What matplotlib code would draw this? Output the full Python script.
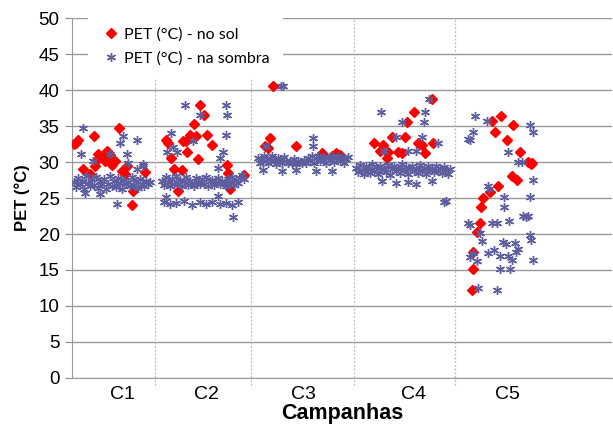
import matplotlib.pyplot as plt

# sample index (x) and PET values, per campaign
campaigns = ["C1", "C2", "C3", "C4", "C5"]
label_pos = [25, 67, 115.5, 170.5, 217.5]
dividers = [41.5, 89.5, 141, 191.5]

# --- PET (°C) - no sol
sun_x = [
    1.0, 2.0, 3.2, 5.6, 9.0, 11.0, 11.5, 12.5, 13.2, 14.0, 15.6, 16.5, 17.5, 19.0, 20.0,
    21.5, 23.5, 24.8, 26.5, 27.6, 29.8, 30.6, 36.5,
    47, 48.2, 49.4, 51, 53.2, 54.8, 55.6, 57, 57.6, 59, 61.2, 62, 63.2, 64, 66, 67.4,
    69.8, 77.4, 78, 79, 86,
    96.6, 98, 99, 100.4, 112, 124.8, 126, 130, 132, 134,
    151, 154, 155.4, 157.4, 158, 159.8, 163.2, 165, 166.5, 167.6, 171, 173.2, 175,
    176.5, 179.8, 180.6,
    200, 200.6, 200.6, 202.4, 204, 204.6, 205.6, 209, 209.8, 211.4, 212.8, 214.6,
    217.6, 220, 220.6, 222.4, 224, 228, 229.5, 230,
]
sun_y = [
    32.5, 32.7, 33.1, 29.0, 28.4, 33.6, 29.4, 30.3, 31.1, 30.9, 30.6, 30.1, 31.5, 31.0, 29.6,
    30.1, 34.7, 28.7, 28.3, 29.4, 24.0, 26.0, 28.6,
    33.1, 32.7, 30.5, 29.1, 26.0, 28.9, 32.9, 32.9, 31.4, 33.8, 35.3, 33.6, 30.4, 37.9, 36.5, 33.8,
    32.4, 29.6, 28.5, 26.3, 28.2,
    32.2, 32.0, 33.3, 40.5, 32.2, 31.2, 30.9, 30.9, 31.2, 31.0,
    32.7, 31.5, 32.3, 30.6, 31.4, 33.5, 31.4, 31.2, 33.5, 35.6, 37.0, 32.7, 32.4,
    31.2, 38.8, 32.6,
    12.2, 15.2, 17.5, 20.3, 21.5, 23.8, 25.0, 25.9, 35.7, 34.2, 26.7, 36.4,
    33.1, 28.1, 35.1, 27.5, 31.4, 30.0, 29.7, 29.9,
]

# --- PET (°C) - na sombra: dense bands of each campaign
c1_band_x = [1, 2, 3, 4, 5, 6, 7, 8, 9, 10, 11, 12, 13, 14, 15, 16, 17, 18, 19, 20,
             21, 22, 23, 24, 25, 26, 27, 28, 29, 30, 31, 32, 33, 34, 35, 36, 37, 38, 39]
c1_band_y = [27.2, 26.5, 27.8, 26.9, 27.4, 26.3, 28.0, 27.1, 26.6, 27.6, 26.8, 27.9, 26.4,
             27.3, 26.9, 27.7, 26.2, 27.0, 28.1, 26.7, 27.4, 26.5, 27.8, 27.1, 26.3, 27.5,
             26.9, 27.2, 26.6, 27.9, 26.8, 27.3, 26.4, 27.6, 27.0, 26.7, 27.4, 26.9, 27.2]
c2_band_x = [45, 46, 47, 48, 49, 50, 51, 52, 53, 54, 55, 56, 57, 58, 59, 60, 61, 62, 63, 64,
             65, 66, 67, 68, 69, 70, 71, 72, 73, 74, 75, 76, 77, 78, 79, 80, 81, 82, 83, 84,
             85, 86]
c2_band_y = [27.4, 26.8, 27.9, 27.2, 26.6, 27.7, 27.0, 28.1, 26.9, 27.5, 26.7, 27.3, 27.9,
             26.8, 27.4, 27.1, 26.6, 27.8, 27.2, 26.9, 27.6, 27.0, 27.9, 26.7, 27.3, 27.5,
             26.8, 27.2, 27.8, 26.9, 27.4, 27.0, 26.7, 27.6, 27.2, 27.9, 26.8, 27.5, 27.1,
             27.8, 28.2, 27.6]
c3_band_x = [93, 94, 95, 96, 97, 98, 99, 100, 101, 102, 103, 104, 105, 106, 107, 108, 109,
             110, 111, 112, 113, 114, 115, 116, 117, 118, 119, 120, 121, 122, 123, 124, 125,
             126, 127, 128, 129, 130, 131, 132, 133, 134, 135, 136, 137, 138]
c3_band_y = [30.6, 29.9, 30.4, 30.8, 30.1, 29.8, 30.5, 30.9, 30.2, 29.7, 30.6, 30.3, 29.9,
             30.7, 30.1, 29.8, 30.2, 29.9, 30.4, 29.7, 30.1, 30.0, 29.8, 30.3, 29.9, 30.6,
             30.2, 30.9, 29.9, 30.5, 30.8, 30.1, 30.4, 30.7, 29.9, 30.6, 30.3, 30.8, 30.0,
             30.5, 30.9, 30.2, 30.6, 29.9, 30.4, 30.7]
c4_band_x = [142, 143, 144, 145, 146, 147, 148, 149, 150, 151, 152, 153, 154, 155, 156, 157,
             158, 159, 160, 161, 162, 163, 164, 165, 166, 167, 168, 169, 170, 171, 172, 173,
             174, 175, 176, 177, 178, 179, 180, 181, 182, 183, 184, 185, 186, 187, 188, 189]
c4_band_y = [29.2, 28.6, 29.6, 28.9, 28.3, 29.4, 29.0, 28.5, 29.7, 28.8, 29.3, 28.4, 29.5,
             28.9, 29.1, 28.6, 29.6, 28.2, 29.0, 29.4, 28.7, 29.2, 28.5, 29.7, 28.9, 29.3,
             28.4, 29.0, 29.5, 28.7, 29.1, 28.5, 29.6, 28.8, 29.2, 28.3, 29.4, 28.9, 29.0,
             28.6, 29.5, 28.8, 29.2, 28.5, 29.3, 28.9, 28.4, 29.1]

# --- PET (°C) - na sombra: scattered points
shade_x = [
    4.4, 5.4, 6.5, 10.6, 14, 19, 22.4, 24, 25.6, 27.4, 28.2, 32.4, 32.4, 35.4, 35.6,
    46, 47, 47.5, 49, 49.4, 50.6, 52, 52.5, 56, 56.5, 60, 60.6, 64, 64, 67, 70, 73, 73, 74,
    74, 75.6, 77, 77, 77, 77.4, 80, 80.6, 83,
    95.4, 96.8, 104.4, 104.8, 105.4, 112, 120.4, 120.4, 122, 130,
    154.6, 155, 156, 162, 162, 164.8, 168, 168, 172, 172, 175, 176, 176.5, 178.6, 180,
    183.2, 186, 187,
    197.8, 197.8, 198.8, 199, 199, 200.6, 200.6, 201.5, 202.4, 202.8, 204, 204.8, 207.4,
    207.8, 208, 208.4, 209.8, 211, 212.4, 212.5, 214, 214, 215.5, 216, 216.2, 217, 217.8,
    218, 218.5, 219, 220, 221.5, 222, 223, 223, 225.2, 225.4, 226.8, 228, 229, 229, 229,
    229.5, 230.6, 230.6, 230.6,
]
shade_y = [
    31.1, 34.7, 25.7, 30.1, 25.5, 31.1, 24.1, 32.7, 33.6, 31.1, 29.9, 33.1, 29.0, 29.4, 29.7,
    24.5, 25.2, 31.4, 24.1, 34.0, 32.1, 24.3, 31.4, 24.6, 37.9, 24.0, 32.9, 36.5, 24.4, 24.2,
    24.5, 29.2, 25.3, 30.5, 24.1, 31.4, 37.9, 33.8, 24.3, 36.5, 24.0, 22.4, 24.4,
    28.9, 32.2, 40.5, 28.7, 40.6, 28.9, 33.3, 32.2, 28.7, 28.7,
    36.9, 27.3, 31.5, 33.5, 27.1, 35.6, 31.5, 27.2, 31.5, 27.0, 33.5, 35.6, 36.9, 38.8, 27.3,
    32.6, 24.5, 24.6,
    33.2, 21.5, 33.0, 21.2, 16.8, 34.2, 17.3, 36.4, 16.2, 12.5, 20.1, 19.0, 35.7,
    26.7, 17.3, 26.3, 21.5, 17.8, 12.2, 21.5, 16.9, 15.2, 18.9, 25.1, 23.7, 18.6, 31.4,
    17.0, 21.8, 15.2, 16.4, 18.7, 17.5, 30.0, 17.9, 30.0, 22.5, 22.4, 22.5, 35.1, 25.1, 19.9,
    19.2, 34.2, 27.5, 16.4,
]

band_x = c1_band_x + c2_band_x + c3_band_x + c4_band_x
band_y = c1_band_y + c2_band_y + c3_band_y + c4_band_y

plt.rcParams["font.family"] = ["Liberation Sans", "DejaVu Sans"]

fig = plt.figure(figsize=(6.13, 4.30), dpi=100)
ax = fig.add_axes([0.1175, 0.121, 0.881, 0.837])

ax.plot(sun_x, sun_y, linestyle="none", marker="D", ms=4.6, color="#FF0000",
        mec="#FF0000", label="PET (°C) - no sol", zorder=3)
ax.plot(band_x + shade_x, band_y + shade_y, linestyle="none", marker=(6, 2, 0), ms=6.5,
        mew=1.0, color="#5E5E9E", label="PET (°C) - na sombra", zorder=4)

ax.set_xlim(0, 270)
ax.set_ylim(0, 50)
ax.set_yticks(range(0, 51, 5))
ax.yaxis.grid(True, color="#999999", linewidth=1)
ax.set_axisbelow(True)
ax.vlines(dividers, -1, 50, colors="#BBBBBB", linestyles=(0, (1.5, 1.5)),
          linewidth=0.9, clip_on=False, zorder=1)

ax.set_xticks(label_pos)
ax.set_xticklabels(campaigns)
ax.tick_params(axis="x", length=0, pad=6, labelsize=14)
ax.tick_params(axis="y", length=5, color="#888888", labelsize=13.5, pad=4)

for side in ["top", "right"]:
    ax.spines[side].set_visible(False)
ax.spines["left"].set_color("#999999")
ax.spines["bottom"].set_color("#999999")

ax.set_xlabel("Campanhas", fontsize=15.5, fontweight="bold", labelpad=0)
ax.set_ylabel("PET (°C)", fontsize=12, fontweight="bold", labelpad=6)

leg = ax.legend(loc="upper left", bbox_to_anchor=(0.03, 1.012), frameon=True,
                handletextpad=0.2, handlelength=1.2, labelspacing=0.62,
                borderaxespad=0.0, borderpad=0.85, prop={"family": "Lato", "size": 11.5})
leg.get_frame().set_edgecolor("none")
leg.get_frame().set_facecolor("white")
leg.get_frame().set_alpha(1)
leg.set_zorder(10)

fig.savefig("out.png", dpi=100)
